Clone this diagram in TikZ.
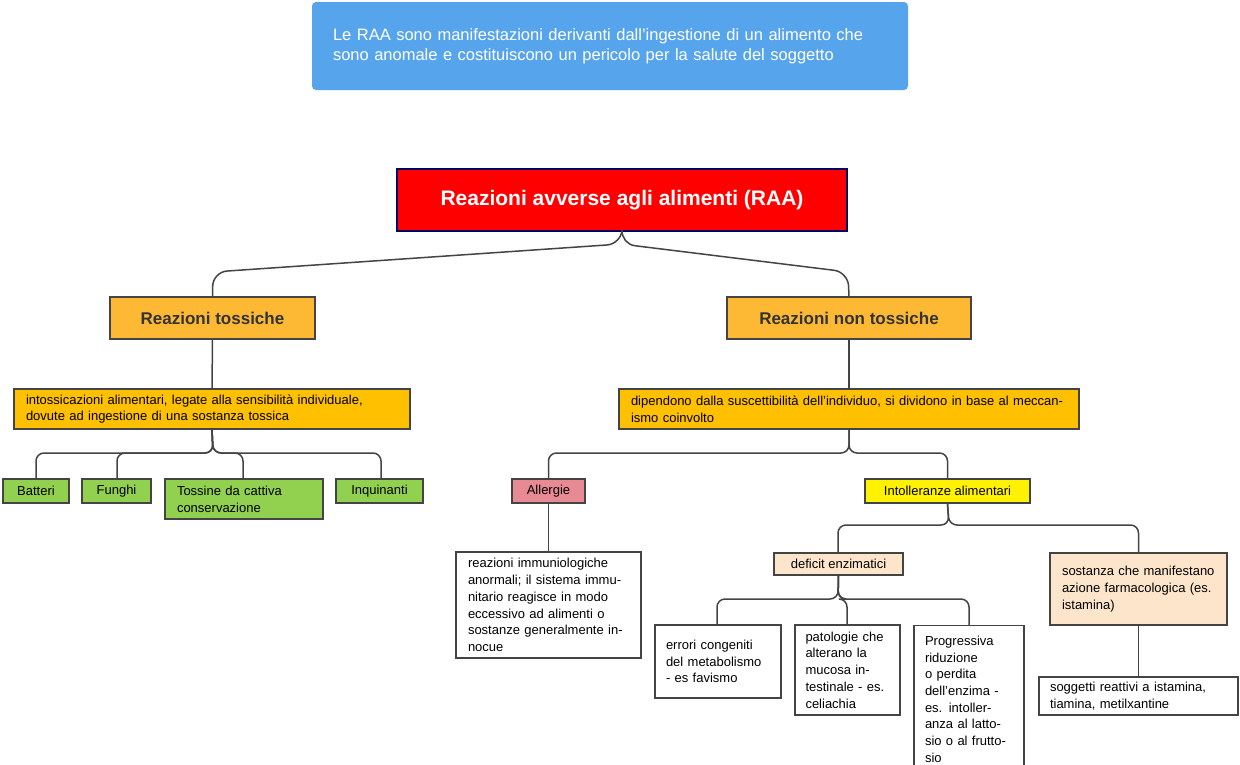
\documentclass[tikz,border=0pt]{standalone}
\usepackage{fontspec}
\setmainfont{Liberation Sans}
\begin{document}
\definecolor{blueb}{HTML}{56A5EC}
\definecolor{orangeb}{HTML}{FDB933}
\definecolor{goldb}{HTML}{FFC000}
\definecolor{greenb}{HTML}{92D050}
\definecolor{pinkb}{HTML}{E88A94}
\definecolor{peachb}{HTML}{FDE5CC}
\definecolor{linec}{HTML}{444444}
\begin{tikzpicture}[x=1pt,y=-1pt,
  box/.style={draw=linec,line width=1.3pt,inner xsep=0pt,inner ysep=0pt,align=left,font=\fontsize{13}{16.7}\selectfont},
  conn/.style={draw=linec,line width=1.5pt,rounded corners=8pt}]
\clip (0,0) rectangle (1240,764);
\fill[white] (0,0) rectangle (1240,764);
\node[box,draw=none,fill=blueb,rounded corners=4pt,minimum width=596,minimum height=88,text width=554,text=white,font=\fontsize{16.5}{20}\selectfont] (def) at (610,46) {Le RAA sono manifestazioni derivanti dall'ingestione di un alimento che sono anomale e costituiscono un pericolo per la salute del soggetto};
\node[box,draw=blue!40!black,fill=red,minimum width=450,minimum height=62,align=center,text=white,font=\bfseries\fontsize{21}{25}\selectfont] (raa) at (622,200) {Reazioni avverse agli alimenti (RAA)};
\node[box,fill=orangeb,minimum width=205,minimum height=42,align=center,text=black!80,font=\bfseries\fontsize{17}{20}\selectfont] (tox) at (212.5,318) {Reazioni tossiche};
\node[box,fill=orangeb,minimum width=244,minimum height=42,align=center,text=black!80,font=\bfseries\fontsize{17}{20}\selectfont] (ntox) at (849,318) {Reazioni non tossiche};
\node[box,fill=goldb,minimum width=396,minimum height=40,text width=372] (into) at (212,409) {intossicazioni alimentari, legate alla sensibilità individuale, dovute ad ingestione di una sostanza tossica};
\node[box,fill=goldb,minimum width=460,minimum height=40,text width=436] (dip) at (849,409) {dipendono dalla suscettibilità dell'individuo, si dividono in base al meccanismo coinvolto};
\node[box,fill=greenb,minimum width=66,minimum height=24,align=center] (bat) at (36,491) {Batteri};
\node[box,fill=greenb,minimum width=69,minimum height=24,align=center] (fun) at (116.5,491) {Funghi};
\node[box,fill=greenb,minimum width=158,minimum height=40,text width=134] (tos) at (244,499) {Tossine da cattiva conservazione};
\node[box,fill=greenb,minimum width=87,minimum height=24,align=center] (inq) at (379.5,491) {Inquinanti};
\node[box,fill=pinkb,minimum width=73,minimum height=24,align=center] (all) at (548.5,491) {Allergie};
\node[box,fill=yellow,minimum width=165,minimum height=24,align=center] (int) at (947.5,491) {Intolleranze alimentari};
\node[box,fill=white,minimum width=185,minimum height=106,text width=161] (imm) at (548.5,605) {reazioni immuniologiche anormali; il sistema immunitario reagisce in modo eccessivo ad alimenti o sostanze generalmente innocue};
\node[box,fill=peachb,minimum width=129,minimum height=22,align=center] (def2) at (838.5,564) {deficit enzimatici};
\node[box,fill=peachb,minimum width=177,minimum height=72,text width=153] (sos) at (1138.5,589) {sostanza che manifestano azione farmacologica (es. istamina)};
\node[box,fill=white,minimum width=126,minimum height=73,text width=104] (err) at (718,661.5) {errori congeniti del metabolismo - es favismo};
\node[box,fill=white,minimum width=105,minimum height=90,text width=84] (pat) at (847.5,670) {patologie che alterano la mucosa intestinale - es. celiachia};
\node[box,fill=white,minimum width=110,minimum height=148,text width=88,anchor=north] (pro) at (969,625) {\rule{0pt}{4pt}\\[-12pt]Progressiva riduzione o perdita dell'enzima - es. intolleranza al lattosio o al fruttosio};
\node[box,fill=white,minimum width=199,minimum height=38,text width=177] (sog) at (1138.5,696) {soggetti reattivi a istamina, tiamina, metilxantine};
% connectors
\draw[conn,rounded corners=14pt] (raa.south) -- (621,244) -- (213,272) -- (tox.north);
\draw[conn,rounded corners=14pt] (raa.south) -- (621,244) -- (848,272) -- (ntox.north);
\draw[conn] (tox.south) -- (into.north);
\draw[conn] (ntox.south) -- (dip.north);
\foreach \n/\x in {bat/36,fun/117,tos/243,inq/381} \draw[conn] (into.south) -- (213,453) -| (\x,479);
\draw[conn] (dip.south) -- (849,453) -| (all.north);
\draw[conn] (dip.south) -- (849,453) -| (int.north);
\draw[conn] (all.south) -- (imm.north);
\draw[conn] (int.south) -- (949,525) -| (838,553);
\draw[conn] (int.south) -- (949,525) -| (sos.north);
\draw[conn] (def2.south) -- (838,599) -| (717,625);
\draw[conn] (def2.south) -- (838,599) -| (847,625);
\draw[conn] (def2.south) -- (838,599) -| (969,625);
\draw[conn] (sos.south) -- (sog.north);
\end{tikzpicture}
\end{document}
